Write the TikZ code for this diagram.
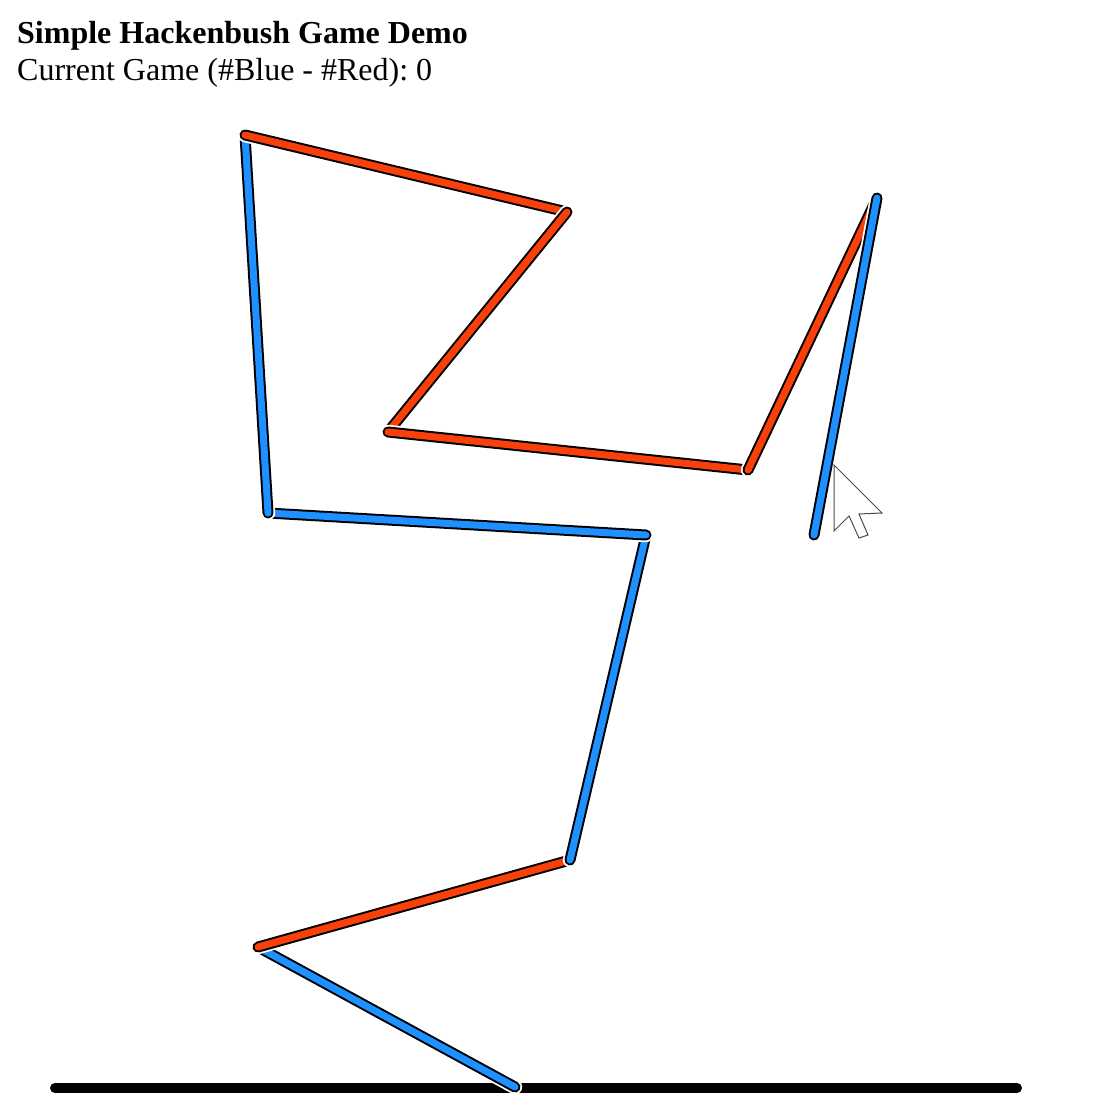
\documentclass[tikz,border=0pt]{standalone}
\usepackage{fontspec}
\setmainfont{Liberation Serif}
\definecolor{hbblue}{RGB}{30,144,255}
\definecolor{hbred}{RGB}{250,64,10}
\frenchspacing
\begin{document}
\begin{tikzpicture}[x=1pt, y=-1pt,
    edge/.style={draw=#1, line cap=round, line width=7pt,
      preaction={draw=white, line cap=round, line width=14.5pt},
      preaction={draw=black, line cap=round, line width=11pt}},
    ground/.style={draw=black, line cap=round, line width=10pt},
    headline/.style={anchor=base west, inner sep=0pt, font=\fontsize{32}{36}\selectfont},
    pointer/.style={fill=white, draw=black!70, line width=1pt, line join=miter}]

    \fill[white] (0,0) rectangle (1119,1119);
    \useasboundingbox (0,0) rectangle (1119,1119);

    \node[headline, font=\fontsize{32}{36}\selectfont\bfseries] (title) at (17,43) {Simple Hackenbush Game Demo};
    \node[headline] (score) at (17,80) {Current Game (\#Blue - \#Red): 0};

    % ground and vertices
    \coordinate (gl) at (55,1088);
    \coordinate (gr) at (1017,1088);
    \coordinate (root) at (515,1087);
    \coordinate (a) at (258,947);
    \coordinate (b) at (570,860);
    \coordinate (c) at (646,535);
    \coordinate (d) at (268,513);
    \coordinate (e) at (245,135);
    \coordinate (f) at (567,212);
    \coordinate (h) at (388,432);
    \coordinate (i) at (748,470);
    \coordinate (j) at (877,198);
    \coordinate (k) at (814,535);

    \draw[ground] (gl) -- (gr);

    \draw[edge=hbblue] (root) -- (a);
    \draw[edge=hbred] (a) -- (b);
    \draw[edge=hbblue] (b) -- (c);
    \draw[edge=hbblue] (c) -- (d);
    \draw[edge=hbblue] (d) -- (e);
    \draw[edge=hbred] (e) -- (f);
    \draw[edge=hbred] (f) -- (h);
    \draw[edge=hbred] (h) -- (i);
    \draw[edge=hbred] (i) -- (j);
    \draw[edge=hbblue] (j) -- (k);

    % mouse pointer
    \draw[pointer] (834,465) -- (834,531) -- (849,516) -- (859,538) -- (868,535)
        -- (859,514) -- (882,513) -- cycle;

\end{tikzpicture}
\end{document}
